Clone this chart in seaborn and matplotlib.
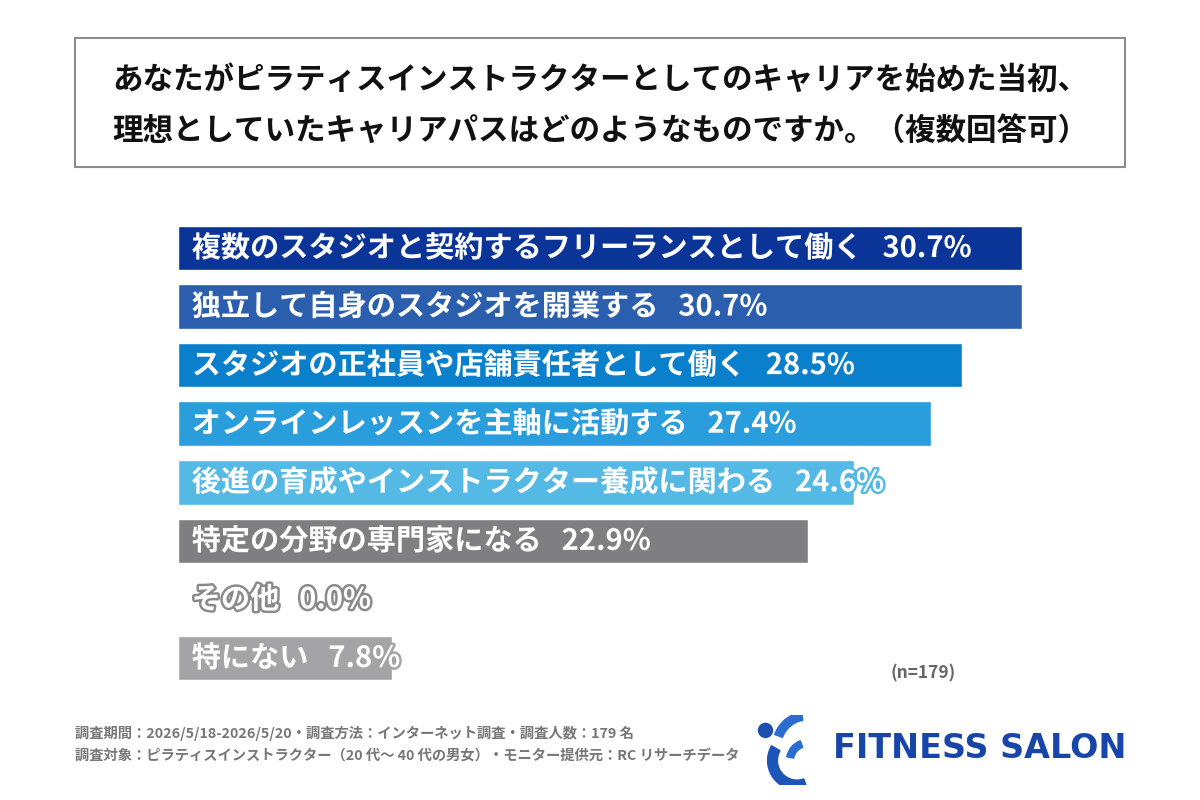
import matplotlib
matplotlib.use("Agg")
import matplotlib.pyplot as plt
import matplotlib.patheffects as pe
from matplotlib.patches import Rectangle, Circle, Wedge
import seaborn as sns
import pandas as pd

sns.set_theme(style="white")
plt.rcParams['font.family'] = ['Noto Sans CJK JP', 'DejaVu Sans']

categories = [
    "複数のスタジオと契約するフリーランスとして働く",
    "独立して自身のスタジオを開業する",
    "スタジオの正社員や店舗責任者として働く",
    "オンラインレッスンを主軸に活動する",
    "後進の育成やインストラクター養成に関わる",
    "特定の分野の専門家になる",
    "その他",
    "特にない",
]
values = [30.7, 30.7, 28.5, 27.4, 24.6, 22.9, 0.0, 7.8]
colors = ["#0b3499", "#2c5eae", "#0a7fcb", "#2a9edc", "#55b9e6",
          "#7f7e80", "#8a898b", "#a4a3a5"]

title_lines = [
    "あなたがピラティスインストラクターとしてのキャリアを始めた当初、",
    "理想としていたキャリアパスはどのようなものですか。（複数回答可）",
]
footer_lines = [
    "調査期間：2026/5/18-2026/5/20・調査方法：インターネット調査・調査人数：179 名",
    "調査対象：ピラティスインストラクター（20 代～ 40 代の男女）・モニター提供元：RC リサーチデータ",
]
n_text = "(n=179)"

df = pd.DataFrame({"cat": categories, "val": values})

fig = plt.figure(figsize=(12, 8), dpi=100)
fig.patch.set_facecolor("white")

# title box
fig.patches.append(Rectangle((75 / 1200, 1 - 167 / 800), 1050 / 1200, 129 / 800,
                             transform=fig.transFigure, fill=False,
                             edgecolor="#8c8c8c", linewidth=1.5))
fig.text(0.5, 1 - 80 / 800, title_lines[0], ha="center", va="center",
         fontsize=22, fontweight="bold", color="#111111")
fig.text(0.5, 1 - 131 / 800, title_lines[1], ha="center", va="center",
         fontsize=22, fontweight="bold", color="#111111")

# axes: x 0..35 -> 178..1140 px ; bars centered 248..658 px
px_per = 844 / 30.7
xmax = 35
left = 178 / 1200
width = xmax * px_per / 1200
top_px = 248 - 58.6 / 2
bot_px = 658 + 58.6 / 2
ax = fig.add_axes([left, 1 - bot_px / 800, width, (bot_px - top_px) / 800])

sns.barplot(data=df, x="val", y="cat", hue="cat", palette=colors,
            legend=False, width=0.76, orient="h", ax=ax, saturation=1)
ax.set_xlim(0, xmax)
ax.set_ylim(len(categories) - 0.5, -0.5)
ax.axis("off")

for i, (c, v) in enumerate(zip(categories, values)):
    ax.text(0.5, i, f"{c}   {v:.1f}%", ha="left", va="center",
            fontsize=21, fontweight="bold", color="white",
            path_effects=[pe.withStroke(linewidth=3.5, foreground=colors[i])])

fig.text(923 / 1200, 1 - 673 / 800, n_text, ha="center", va="center",
         fontsize=12.5, fontweight="bold", color="#666666")

fig.text(75 / 1200, 1 - 733 / 800, footer_lines[0], ha="left", va="center",
         fontsize=10.3, fontweight="bold", color="#777777")
fig.text(75 / 1200, 1 - 757 / 800, footer_lines[1], ha="left", va="center",
         fontsize=10.3, fontweight="bold", color="#777777")

# logo
lax = fig.add_axes([755 / 1200, 1 - 785 / 800, 70 / 1200, 70 / 800])
lax.set_xlim(0, 1)
lax.set_ylim(0, 1)
lax.set_aspect("equal")
lax.axis("off")
lax.add_patch(Circle((0.15, 0.78), 0.1, color="#1d4fae"))
lax.add_patch(Wedge((0.6, 0.35), 0.42, 150, 290, width=0.14, color="#1d56b8"))
lax.add_patch(Wedge((0.75, 0.55), 0.5, 100, 160, width=0.12, color="#2a6ed0"))
lax.add_patch(Wedge((0.75, 0.35), 0.3, 110, 170, width=0.1, color="#2a6ed0"))
fig.text(980 / 1200, 1 - 748 / 800, "FITNESS SALON", ha="center", va="center",
         fontsize=24, fontweight="semibold", color="#1846a8", family="DejaVu Sans")

fig.savefig("out.png", dpi=100, facecolor="white")
